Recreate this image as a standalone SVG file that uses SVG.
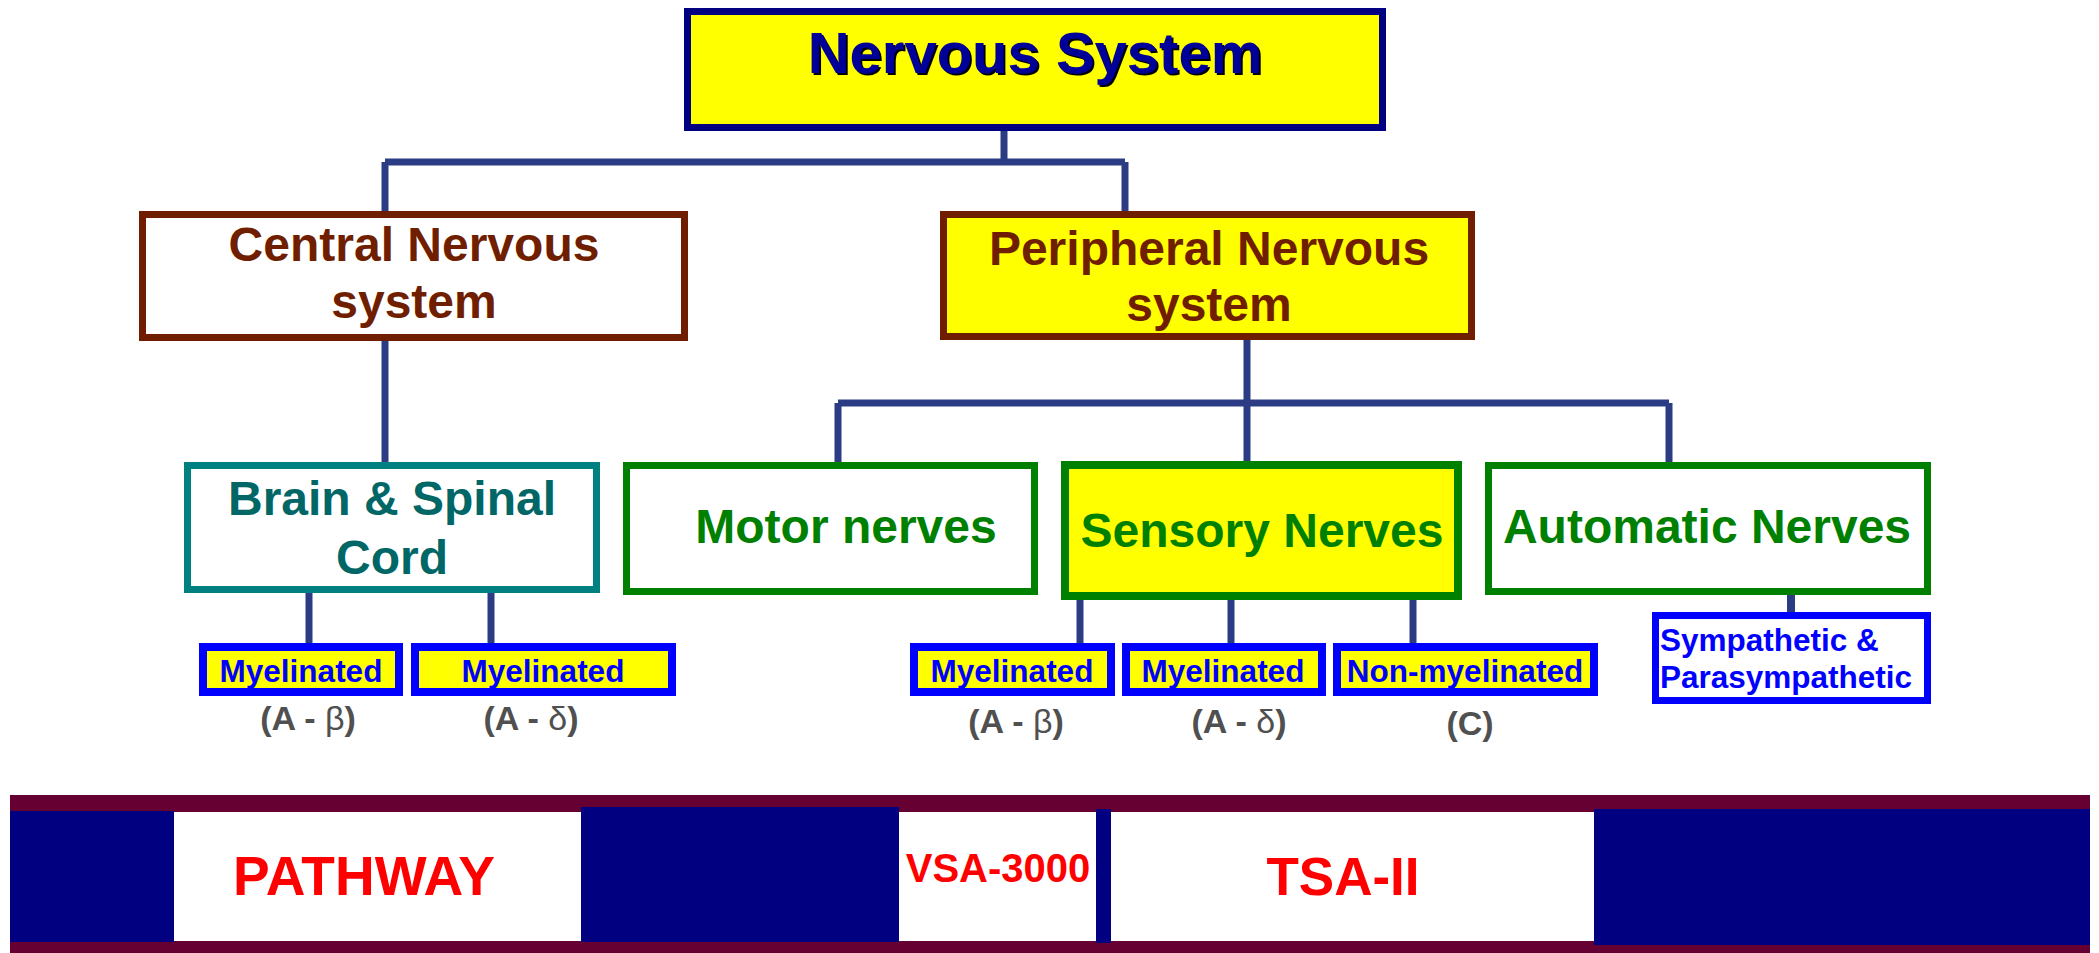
<svg xmlns="http://www.w3.org/2000/svg" width="2099" height="953" viewBox="0 0 2099 953">
<defs>
<filter id="shadow" x="-5%" y="-20%" width="110%" height="140%">
<feDropShadow dx="2" dy="2" stdDeviation="0" flood-color="#000000" flood-opacity="1"/>
</filter>
</defs>
<style>
text{font-family:"Liberation Sans",Arial,sans-serif;font-weight:bold;text-anchor:middle}
.conn{stroke:#2B3C85;stroke-width:7;fill:none;stroke-linecap:butt}
.top{fill:#FFFF00;stroke:#000080;stroke-width:7}
.brown{stroke:#701E00;stroke-width:7}
.brownt{fill:#701E00;font-size:48px}
.teal{fill:#FFFFFF;stroke:#008080;stroke-width:7}
.tealt{fill:#006666;font-size:48px}
.green{stroke:#008000;stroke-width:7}
.greent{fill:#008000;font-size:48px}
.sub{fill:#FFFF00;stroke:#0000FF;stroke-width:8}
.subt{fill:#0000FF;font-size:31.5px}
.lab{fill:#505050;font-size:34px}
.greek{font-weight:normal}
.navy{fill:#000080}
.white{fill:#FFFFFF}
.red{fill:#FF0000}
</style>
<rect x="0" y="0" width="2099" height="953" fill="#FFFFFF"/>

<g id="connectors">
<path class="conn" d="M1004 131 V162 M385 162 H1125 M385 162 V211 M1125 162 V211"/>
<path class="conn" d="M385 341 V462"/>
<path class="conn" d="M309 593 V643 M491 593 V643"/>
<path class="conn" d="M1247 340 V403 M838 403 H1669 M838 403 V462 M1247 403 V461 M1669 403 V462"/>
<path class="conn" d="M1080 600 V643 M1231 600 V643 M1413 600 V647"/>
<path class="conn" d="M1791 595 V613" style="stroke-width:8"/>
</g>

<g id="nervous-system">
<rect class="top" x="687.5" y="11.5" width="695" height="116"/>
<text x="1035" y="73" style="font-size:58px;fill:#000099" filter="url(#shadow)">Nervous System</text>
</g>

<g id="central">
<rect class="brown" fill="#FFFFFF" x="142.5" y="214.5" width="542" height="123"/>
<text class="brownt" x="414" y="261">Central Nervous</text>
<text class="brownt" x="414" y="318">system</text>
</g>

<g id="peripheral">
<rect class="brown" fill="#FFFF00" x="943.5" y="214.5" width="528" height="122"/>
<text class="brownt" x="1209" y="265">Peripheral Nervous</text>
<text class="brownt" x="1209" y="321">system</text>
</g>

<g id="brain">
<rect class="teal" x="187.5" y="465.5" width="409" height="124"/>
<text class="tealt" x="392" y="515">Brain &amp; Spinal</text>
<text class="tealt" x="392" y="574">Cord</text>
</g>

<g id="motor">
<rect class="green" fill="#FFFFFF" x="626.5" y="465.5" width="408" height="126"/>
<text class="greent" x="846" y="543">Motor nerves</text>
</g>

<g id="sensory">
<rect class="green" fill="#FFFF00" x="1065" y="465" width="393" height="131" style="stroke-width:8"/>
<text class="greent" x="1262" y="547">Sensory Nerves</text>
</g>

<g id="automatic">
<rect class="green" fill="#FFFFFF" x="1488.5" y="465.5" width="439" height="126"/>
<text class="greent" x="1707" y="543">Automatic Nerves</text>
</g>

<g id="cns-myelinated-beta">
<rect class="sub" x="203" y="647" width="196" height="45"/>
<text class="subt" x="301" y="682">Myelinated</text>
<text class="lab" x="308" y="730">(A - <tspan class="greek">β</tspan>)</text>
</g>

<g id="cns-myelinated-delta">
<rect class="sub" x="415" y="647" width="257" height="45"/>
<text class="subt" x="543" y="682">Myelinated</text>
<text class="lab" x="531" y="730">(A - <tspan class="greek">δ</tspan>)</text>
</g>

<g id="pns-myelinated-beta">
<rect class="sub" x="914" y="647" width="197" height="45"/>
<text class="subt" x="1012" y="682">Myelinated</text>
<text class="lab" x="1016" y="733">(A - <tspan class="greek">β</tspan>)</text>
</g>

<g id="pns-myelinated-delta">
<rect class="sub" x="1126" y="647" width="196" height="45"/>
<text class="subt" x="1223" y="682">Myelinated</text>
<text class="lab" x="1239" y="733">(A - <tspan class="greek">δ</tspan>)</text>
</g>

<g id="pns-non-myelinated">
<rect class="sub" x="1337" y="647" width="257" height="45"/>
<text class="subt" x="1465" y="682">Non-myelinated</text>
<text class="lab" x="1470" y="735">(C)</text>
</g>

<g id="sympathetic">
<rect fill="#FFFFFF" stroke="#0000FF" stroke-width="7" x="1655.5" y="615.5" width="272" height="85"/>
<text class="subt" x="1660" y="651" style="text-anchor:start">Sympathetic &amp;</text>
<text class="subt" x="1660" y="688" style="text-anchor:start">Parasympathetic</text>
</g>

<g id="footer-band">
<rect x="10" y="795" width="2080" height="158" fill="#660033"/>
<rect class="navy" x="10" y="811" width="164" height="131"/>
<rect class="white" x="174" y="812" width="407" height="129"/>
<rect class="navy" x="581" y="807" width="318" height="135"/>
<rect class="white" x="899" y="812" width="197" height="129"/>
<rect class="navy" x="1096" y="809" width="15" height="134"/>
<rect class="white" x="1111" y="812" width="483" height="129"/>
<rect class="navy" x="1594" y="809" width="496" height="136"/>
<text class="red" x="364" y="895" style="font-size:55px">PATHWAY</text>
<text class="red" x="998" y="882" style="font-size:40px">VSA-3000</text>
<text class="red" x="1343" y="895" style="font-size:53px">TSA-II</text>
</g>
</svg>
